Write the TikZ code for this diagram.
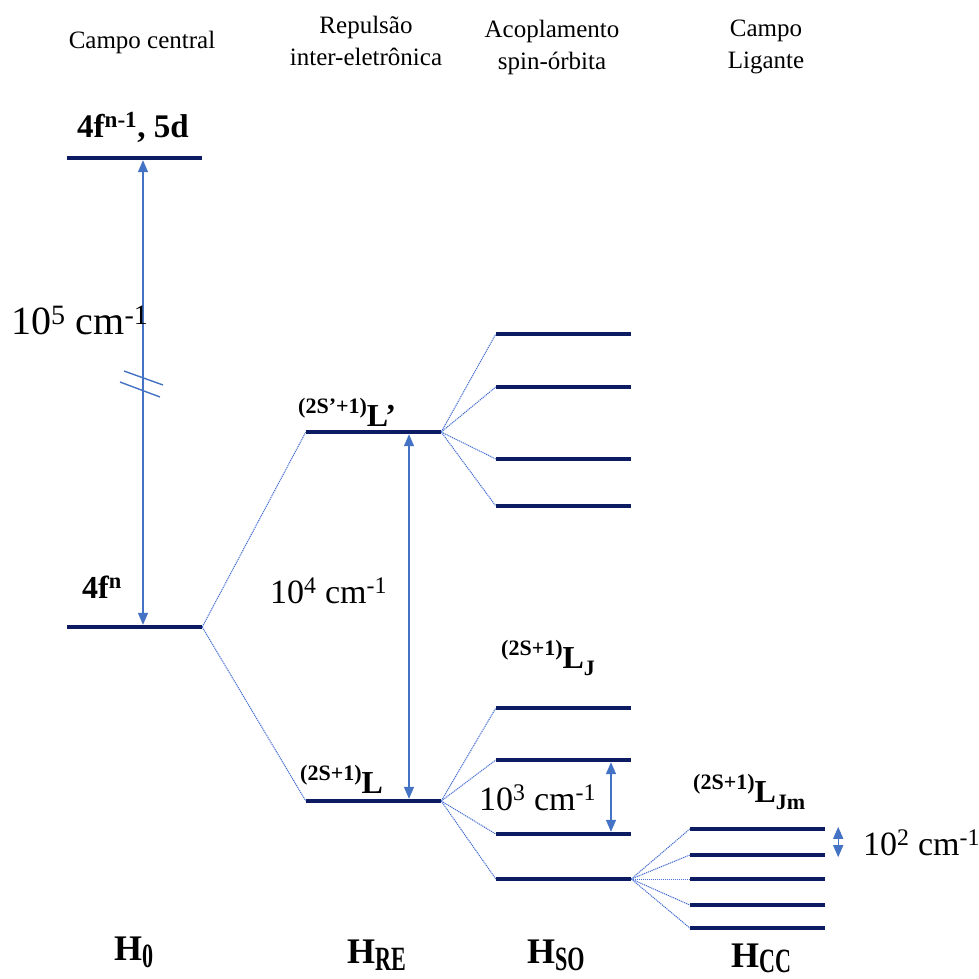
\documentclass[tikz,border=0pt]{standalone}
\usepackage{fontspec}
\setmainfont{Liberation Serif}
\usetikzlibrary{arrows.meta}
\definecolor{levelc}{RGB}{13,27,98}
\definecolor{arrc}{RGB}{68,114,196}
\definecolor{linkc}{RGB}{70,110,210}
% term symbol: superscript multiplicity, main letter, subscript
\newcommand\spinterm[3]{\raisebox{13pt}{\fontsize{22}{22}\selectfont #1}#2\raisebox{-7pt}{\fontsize{22}{22}\selectfont #3}}
% Hamiltonian label with condensed subscript
\newcommand\hamlab[2][-7pt]{H\raisebox{#1}{\scalebox{0.65}[1]{\fontsize{34}{34}\selectfont #2}}}
\begin{document}
\begin{tikzpicture}[x=1pt,y=-1pt,
  lvl/.style={fill=levelc,inner sep=0pt,minimum height=4pt,minimum width=135pt},
  gap/.style={arrc,line width=1.4pt,{Triangle[length=12pt,width=10pt]}-{Triangle[length=12pt,width=10pt]}},
  link/.style={linkc,line width=1pt,dash pattern=on 1.2pt off 0.8pt},
  toplab/.style={font=\fontsize{25}{32}\selectfont,align=center,inner sep=0pt},
  bold/.style={font=\bfseries\fontsize{32}{32}\selectfont,anchor=base west,inner sep=0pt},
  num/.style={font=\fontsize{34}{34}\selectfont,anchor=base west,inner sep=0pt},
  ham/.style={font=\bfseries\fontsize{36}{36}\selectfont,anchor=base west,inner sep=0pt}]
\useasboundingbox (0,0) rectangle (978,979);

% column headings
\node[toplab] (t0) at (142,42) {Campo central};
\node[toplab] (t1) at (366,41) {Repulsão\\inter-eletrônica};
\node[toplab] (t2) at (552,47) {Acoplamento\\spin-órbita};
\node[toplab] (t3) at (766,47) {Campo\\Ligante};

% central field levels
\node[lvl] (e0) at (134.5,158) {};
\node[lvl] (g0) at (134.5,627) {};
% inter-electronic repulsion terms
\node[lvl] (lp) at (373.5,432) {};
\node[lvl] (l)  at (373.5,801) {};
% spin-orbit levels
\foreach \n/\y in {so1/334,so2/387,so3/459,so4/506,so5/708,so6/760,so7/834,so8/879}
  \node[lvl] (\n) at (563.5,\y) {};
% ligand field sublevels
\foreach \n/\y in {cc1/829,cc2/855,cc3/879,cc4/905,cc5/928}
  \node[lvl] (\n) at (757.5,\y) {};

% splitting links
\draw[link] (g0.east) -- (lp.west);
\draw[link] (g0.east) -- (l.west);
\foreach \n in {so1,so2,so3,so4} \draw[link] (lp.east) -- (\n.west);
\foreach \n in {so5,so6,so7,so8} \draw[link] (l.east) -- (\n.west);
\foreach \n in {cc1,cc2,cc3,cc4,cc5} \draw[link] (so8.east) -- (\n.west);

% energy gaps
\draw[gap] ([xshift=8.5pt]e0.south) -- ([xshift=8.5pt]g0.north);
\draw[arrc,line width=1.4pt] (124,371) -- (163,385) (120,382) -- (160,397);
\draw[gap] ([xshift=35.5pt]lp.south) -- ([xshift=35.5pt]l.north);
\draw[gap] ([xshift=47.5pt]so6.south) -- ([xshift=47.5pt]so7.north);
\draw[gap] ([xshift=13pt]cc1.north east) -- ([xshift=13pt]cc2.south east);

% configuration and term labels
\node[bold,font=\bfseries\fontsize{33}{33}\selectfont] (c1) at (77,137) {4f\textsuperscript{n-1}, 5d};
\node[bold] (c0) at (82,598) {4f\textsuperscript{n}};
\node[bold] (s1) at (298,426) {\spinterm{(2S’+1)}{L’}{}};
\node[bold] (s0) at (300,793) {\spinterm{(2S+1)}{L}{}};
\node[bold] (s2) at (501,668) {\spinterm{(2S+1)}{L}{J}};
\node[bold] (s3) at (693,802) {\spinterm{(2S+1)}{L}{Jm}};

% magnitudes
\node[num,font=\fontsize{40}{40}\selectfont] (m5) at (11,334) {10\textsuperscript{5} cm\textsuperscript{-1}};
\node[num] (m4) at (270,603) {10\textsuperscript{4} cm\textsuperscript{-1}};
\node[num] (m3) at (479,810) {10\textsuperscript{3} cm\textsuperscript{-1}};
\node[num] (m2) at (863,855) {10\textsuperscript{2} cm\textsuperscript{-1}};

% Hamiltonian terms
\node[ham] (h0) at (114,960) {\hamlab{0}};
\node[ham] (h1) at (347,963) {\hamlab{RE}};
\node[ham] (h2) at (527,963) {\hamlab{SO}};
\node[ham] (h3) at (731,967) {\hamlab[-5pt]{CC}};
\end{tikzpicture}
\end{document}
